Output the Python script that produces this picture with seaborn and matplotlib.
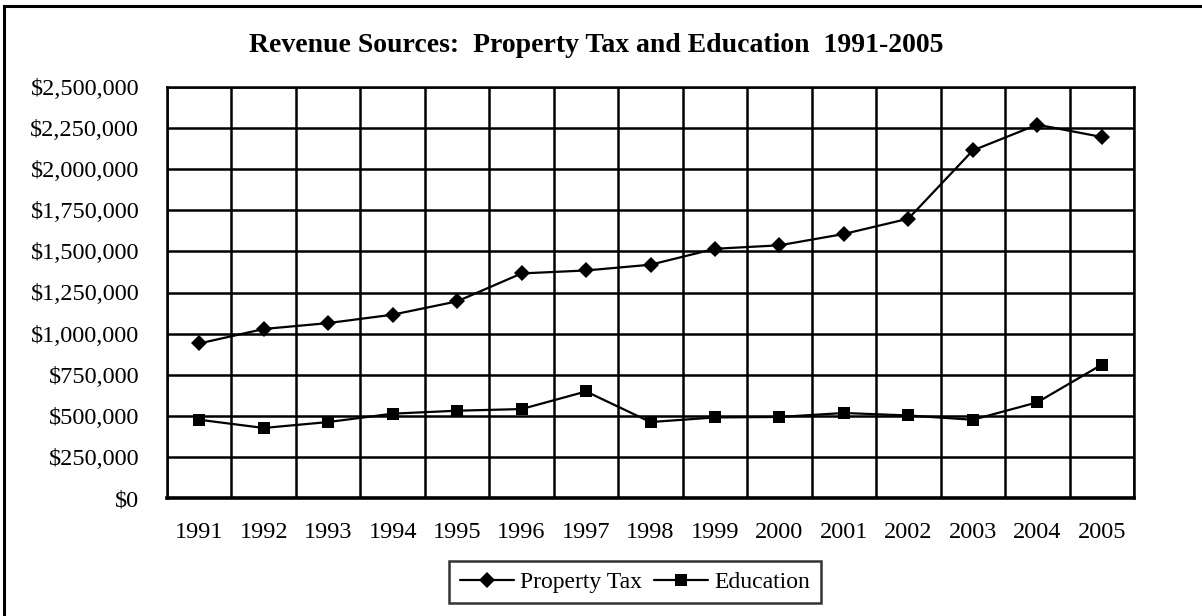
"""Revenue sources line chart: property tax vs education, 1991-2005."""
import matplotlib

matplotlib.use("Agg")
import matplotlib.pyplot as plt
import numpy as np
import pandas as pd
import seaborn as sns
from matplotlib.patches import Rectangle
from matplotlib.ticker import FixedLocator, FuncFormatter, MultipleLocator

years = ["1991", "1992", "1993", "1994", "1995", "1996", "1997", "1998",
         "1999", "2000", "2001", "2002", "2003", "2004", "2005"]
property_tax = [940000, 1028000, 1064000, 1115000, 1196000, 1366000, 1384000,
                1419000, 1516000, 1537000, 1606000, 1699000, 2114000, 2271000,
                2196000]
education = [476000, 426000, 462000, 513000, 531000, 541000, 648000, 462000,
             490000, 493000, 517000, 502000, 476000, 582000, 811000]

df = pd.DataFrame({
    "pos": np.arange(len(years)),
    "Property Tax": property_tax,
    "Education": education,
})

sns.set_theme(style="white")
plt.rcParams["font.family"] = ["Liberation Serif", "DejaVu Serif"]
plt.rcParams["text.color"] = "black"

W, H = 1202, 616
fig = plt.figure(figsize=(W / 100, H / 100), dpi=100)
ax = fig.add_axes([167 / W, 1 - 498 / H, (1134 - 167) / W, (498 - 87) / H])

sns.lineplot(data=df, x="pos", y="Property Tax", ax=ax, color="black",
             linewidth=1.6, marker="D", markersize=8, markeredgewidth=0,
             label="Property Tax")
sns.lineplot(data=df, x="pos", y="Education", ax=ax, color="black",
             linewidth=1.6, marker="s", markersize=9, markeredgewidth=0,
             label="Education")

ax.set_xlim(-0.5, len(years) - 0.5)
ax.set_ylim(0, 2500000)
ax.xaxis.set_major_locator(FixedLocator(df["pos"]))
ax.set_xticklabels(years)
ax.xaxis.set_minor_locator(FixedLocator(np.arange(len(years) + 1) - 0.5))
ax.yaxis.set_major_locator(MultipleLocator(250000))
ax.yaxis.set_major_formatter(FuncFormatter(lambda v, _: f"${v:,.0f}"))

ax.grid(False)
ax.grid(True, which="minor", axis="x", color="black", linewidth=1.8)
ax.grid(True, which="major", axis="y", color="black", linewidth=1.8)
ax.set_axisbelow(True)
ax.tick_params(axis="both", which="both", length=0, labelsize=17.5,
               colors="black", labelcolor="black")
ax.tick_params(axis="y", pad=20)
ax.tick_params(axis="x", pad=17)
ax.set_xlabel("")
ax.set_ylabel("")
for side in ["top", "right", "left"]:
    ax.spines[side].set_color("black")
    ax.spines[side].set_linewidth(1.8)
ax.spines["bottom"].set_color("black")
ax.spines["bottom"].set_linewidth(2.6)

ax.get_legend().remove()
handles, labels = ax.get_legend_handles_labels()
leg = fig.legend(handles, labels, loc="center", ncol=2,
                 bbox_to_anchor=(635 / W, 1 - 582 / H), fontsize=17,
                 frameon=True, fancybox=False, edgecolor="black",
                 handlelength=2.3, handletextpad=0.25, columnspacing=0.5,
                 borderpad=0.45, labelcolor="black")
leg.get_frame().set_linewidth(1.8)

fig.text(596 / W, 1 - 46 / H,
         "Revenue Sources:  Property Tax and Education  1991-2005",
         ha="center", va="center", fontsize=20, fontweight="bold",
         color="black")

fig.patches.append(Rectangle((4 / W, -0.1), 1.2, 1 - 6 / H + 0.1,
                             transform=fig.transFigure, fill=False,
                             edgecolor="black", linewidth=2.2))

fig.savefig("out.png", dpi=100)
plt.close(fig)
